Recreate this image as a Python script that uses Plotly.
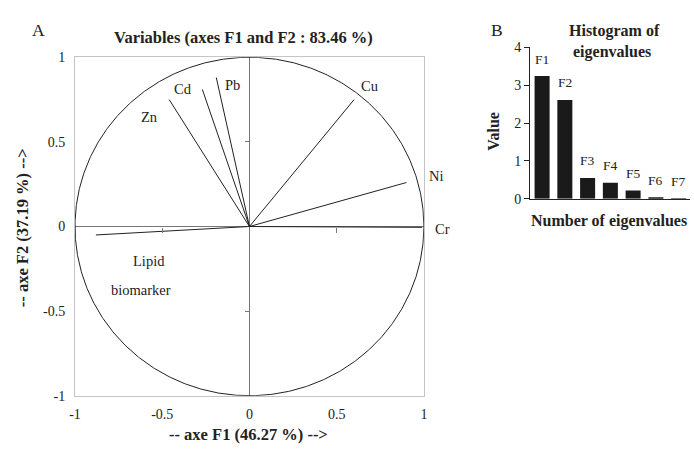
import numpy as np
import plotly.graph_objects as go

# ---------------- data ----------------
var_names = ["Zn", "Cd", "Pb", "Cu", "Ni", "Cr", "Lipid biomarker"]
f1_coords = [-0.46, -0.27, -0.19, 0.60, 0.90, 0.99, -0.88]
f2_coords = [0.75, 0.81, 0.88, 0.75, 0.26, -0.005, -0.05]

eig_labels = ["F1", "F2", "F3", "F4", "F5", "F6", "F7"]
eig_values = [3.24, 2.61, 0.55, 0.42, 0.22, 0.04, 0.01]

axis_ticks = [-1, -0.5, 0, 0.5, 1]
axis_tick_text = ["-1", "-0.5", "0", "0.5", "1"]
eig_ticks = [0, 1, 2, 3, 4]

# label pixel offsets (style/placement only)
label_shift = {
    "Zn": (-20, -17), "Cd": (-19, 0), "Pb": (16, -7), "Cu": (15, 14),
    "Ni": (30, 7), "Cr": (20, -2),
}

FONT = "Liberation Serif"
W, H = 694, 454

def px(x):
    return x / W

def py(y):
    return 1 - y / H

fig = go.Figure()

# correlation circle
t = np.linspace(0, 2 * np.pi, 721)
fig.add_trace(go.Scatter(x=np.cos(t), y=np.sin(t), mode="lines",
                         line=dict(color="#222222", width=1),
                         xaxis="x", yaxis="y", hoverinfo="skip"))

# vectors
vx, vy = [], []
for a, b in zip(f1_coords, f2_coords):
    vx += [0, a, None]
    vy += [0, b, None]
fig.add_trace(go.Scatter(x=vx, y=vy, mode="lines",
                         line=dict(color="#222222", width=1),
                         xaxis="x", yaxis="y", hoverinfo="skip"))

# dummy trace for inner tick axes
fig.add_trace(go.Scatter(x=[None], y=[None], xaxis="x3", yaxis="y3",
                         hoverinfo="skip"))

# eigenvalue bars
fig.add_trace(go.Bar(x=eig_labels, y=eig_values, xaxis="x2", yaxis="y2",
                     marker=dict(color="#1a1a1a", line=dict(width=0)),
                     width=0.66, hoverinfo="skip"))

LBL = 14.5
annotations = []
for name, a, b in zip(var_names, f1_coords, f2_coords):
    if name == "Lipid biomarker":
        annotations.append(dict(x=a, y=b, xref="x", yref="y", text="Lipid",
                                showarrow=False, xshift=53, yshift=-26,
                                font=dict(family=FONT, size=LBL, color="#222")))
        annotations.append(dict(x=a, y=b, xref="x", yref="y", text="biomarker",
                                showarrow=False, xshift=45, yshift=-55,
                                font=dict(family=FONT, size=LBL, color="#222")))
    else:
        dx, dy = label_shift[name]
        annotations.append(dict(x=a, y=b, xref="x", yref="y", text=name,
                                showarrow=False, xshift=dx, yshift=dy,
                                font=dict(family=FONT, size=LBL, color="#222")))

for lab, v in zip(eig_labels, eig_values):
    annotations.append(dict(x=lab, y=v, xref="x2", yref="y2", text=lab,
                            showarrow=False, yshift=17, yanchor="middle",
                            font=dict(family=FONT, size=13.5, color="#222")))

def txt(x, y, s, size=16.5, bold=True, angle=0):
    annotations.append(dict(x=px(x), y=py(y), xref="paper", yref="paper",
                            text=f"<b>{s}</b>" if bold else s, showarrow=False,
                            textangle=angle, xanchor="center", yanchor="middle",
                            font=dict(family=FONT, size=size, color="#222")))

txt(33, 24, "A", size=17.5, bold=False)
txt(241, 32, "Variables (axes F1 and F2 : 83.46 %)")
txt(246, 442, "-- axe F1 (46.27 %) -->")
txt(17, 228, "-- axe F2 (37.19 %) -->", angle=-90)
txt(498, 24, "B", size=17.5, bold=False)
txt(617, 25, "Histogram of", size=16)
txt(615, 47, "eigenvalues", size=16)
txt(495, 128, "Value", size=16, angle=-90)
txt(612, 221, "Number of eigenvalues", size=16)

tickfont = dict(family=FONT, size=14, color="#222")

fig.update_layout(
    width=W, height=H, margin=dict(l=0, r=0, t=0, b=0),
    paper_bgcolor="white", plot_bgcolor="white", showlegend=False,
    hovermode=False, annotations=annotations,
    xaxis=dict(domain=[px(70), px(424)], range=[-1, 1], anchor="y",
               tickvals=axis_ticks, ticktext=axis_tick_text, ticks="",
               ticklabelstandoff=5, tickfont=tickfont,
               showgrid=False, zeroline=True, zerolinecolor="#777777",
               zerolinewidth=1, showline=True, mirror=True,
               linecolor="#c4c4c4", linewidth=1),
    yaxis=dict(domain=[py(402), py(52)], range=[-1, 1], anchor="x",
               tickvals=axis_ticks, ticktext=axis_tick_text, ticks="",
               ticklabelstandoff=6, tickfont=tickfont,
               showgrid=False, zeroline=True, zerolinecolor="#777777",
               zerolinewidth=1, showline=True, mirror=True,
               linecolor="#c4c4c4", linewidth=1),
    xaxis3=dict(overlaying="x", anchor="free", position=0.5, side="bottom",
                range=[-1, 1], tickvals=[-0.5, 0.5], ticks="outside",
                ticklen=5, tickcolor="#777777", showticklabels=False,
                showline=False, showgrid=False, zeroline=False),
    yaxis3=dict(overlaying="y", anchor="free", position=px(247), side="left",
                range=[-1, 1], tickvals=[-0.5, 0.5], ticks="outside",
                ticklen=4, tickcolor="#777777", showticklabels=False,
                showline=False, showgrid=False, zeroline=False),
    xaxis2=dict(domain=[px(531.7), 1.0], range=[-0.53, 6.5], anchor="y2",
                showticklabels=False, ticks="", showgrid=False,
                zeroline=False, showline=True, linecolor="#222", linewidth=1),
    yaxis2=dict(domain=[py(198.3), py(41.7)], range=[0, 4], anchor="x2",
                tickvals=eig_ticks, ticks="outside", ticklen=5,
                tickcolor="#222", tickfont=tickfont, showgrid=False,
                zeroline=False, showline=True, linecolor="#222",
                linewidth=1),
    bargap=0.34,
)

fig.write_html(
    "out.html",
    config={"displayModeBar": False},
    post_script="document.body.style.margin='0';document.body.style.overflow='hidden';",
)
